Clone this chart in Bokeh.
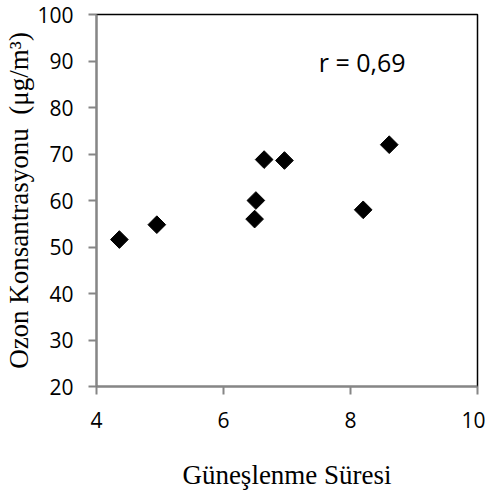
import math
from bokeh.plotting import figure
from bokeh.models import ColumnDataSource, Range1d, Label, FixedTicker
from bokeh.embed import file_html
from bokeh.resources import INLINE

sunshine = [4.36, 4.95, 6.49, 6.51, 6.64, 6.96, 8.20, 8.61]
ozone = [51.6, 54.8, 56.0, 60.0, 68.8, 68.6, 58.0, 72.0]
x_ticks = [4, 6, 8, 10]
y_ticks = [20, 30, 40, 50, 60, 70, 80, 90, 100]
x_title = "Güneşlenme Süresi"
y_title = "Ozon Konsantrasyonu\u00a0 (μg/m³)"
r_text = "r = 0,69"

src = ColumnDataSource(dict(x=sunshine, y=ozone))

p = figure(width=485, height=495, output_backend="svg", toolbar_location=None,
           x_range=Range1d(4, 10), y_range=Range1d(20, 100),
           min_border_left=96, min_border_right=8, min_border_top=14, min_border_bottom=109)

p.scatter("x", "y", source=src, marker="square", size=12.5, angle=math.pi / 4,
          fill_color="black", line_color="black")

p.xgrid.visible = False
p.ygrid.visible = False
p.outline_line_color = "black"
p.outline_line_width = 1.5
p.background_fill_color = "white"
p.border_fill_color = "white"

for ax, ticks in ((p.xaxis[0], x_ticks), (p.yaxis[0], y_ticks)):
    ax.ticker = FixedTicker(ticks=ticks)
    ax.axis_line_color = "#868686"
    ax.axis_line_width = 2
    ax.major_tick_line_color = "#868686"
    ax.major_tick_line_width = 2
    ax.major_tick_in = 0
    ax.major_tick_out = 8
    ax.minor_tick_line_color = None
    ax.major_label_text_font = "Open Sans"
    ax.major_label_text_font_size = "21px"
    ax.major_label_text_color = "black"
    ax.major_label_standoff = 17
    ax.axis_label_text_font = "Liberation Serif"
    ax.axis_label_text_font_size = "27px"
    ax.axis_label_text_font_style = "normal"
    ax.axis_label_text_color = "black"

p.xaxis.axis_label = x_title
p.yaxis.axis_label = y_title
p.xaxis.axis_label_standoff = 29
p.yaxis.major_label_standoff = 15
p.yaxis.axis_label_standoff = 0

p.add_layout(Label(x=7.5, y=89.7, text=r_text, text_font="Open Sans",
                   text_font_size="25px", text_baseline="middle", text_color="black"))

open("out.html", "w").write(file_html(p, INLINE))
